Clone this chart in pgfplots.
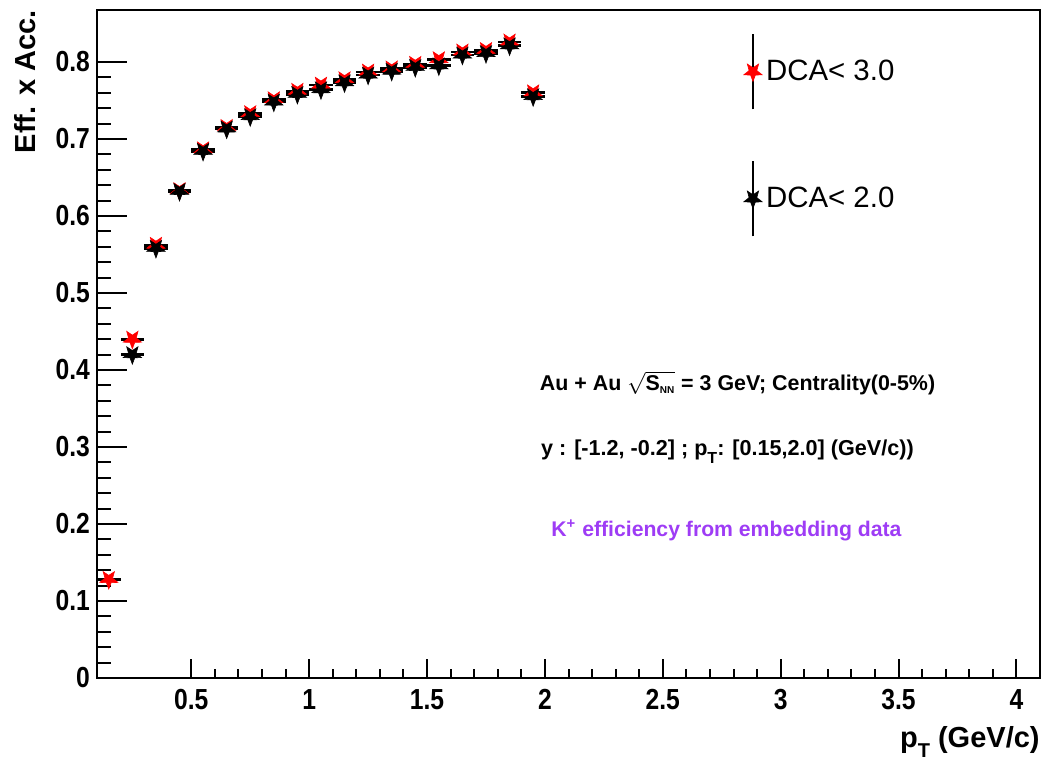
\documentclass[border=0pt]{standalone}
\usepackage{fontspec}
\setmainfont{Liberation Sans}
\newfontfamily\condfont[FakeStretch=0.85]{Liberation Sans}
\usepackage{pgfplots}
\usepackage{pgfplotstable}
\pgfplotsset{compat=1.18}
\usetikzlibrary{calc}
\definecolor{kpurple}{RGB}{158,60,245}

% filled five-point star, two points up
\pgfdeclareplotmark{dstar}{%
  \pgfpathmoveto{\pgfpointpolar{270}{\pgfplotmarksize}}%
  \pgfpathlineto{\pgfpointpolar{306}{0.42\pgfplotmarksize}}%
  \pgfpathlineto{\pgfpointpolar{342}{\pgfplotmarksize}}%
  \pgfpathlineto{\pgfpointpolar{18}{0.42\pgfplotmarksize}}%
  \pgfpathlineto{\pgfpointpolar{54}{\pgfplotmarksize}}%
  \pgfpathlineto{\pgfpointpolar{90}{0.42\pgfplotmarksize}}%
  \pgfpathlineto{\pgfpointpolar{126}{\pgfplotmarksize}}%
  \pgfpathlineto{\pgfpointpolar{162}{0.42\pgfplotmarksize}}%
  \pgfpathlineto{\pgfpointpolar{198}{\pgfplotmarksize}}%
  \pgfpathlineto{\pgfpointpolar{234}{0.42\pgfplotmarksize}}%
  \pgfpathclose
  \pgfusepathqfillstroke}

\pgfplotstableread{
pt eff
0.15 0.128
0.25 0.440
0.35 0.562
0.45 0.633
0.55 0.686
0.65 0.715
0.75 0.733
0.85 0.751
0.95 0.762
1.05 0.770
1.15 0.777
1.25 0.787
1.35 0.791
1.45 0.797
1.55 0.803
1.65 0.813
1.75 0.815
1.85 0.826
1.95 0.760
}\dcathree

\pgfplotstableread{
pt eff
0.25 0.420
0.35 0.558
0.45 0.632
0.55 0.684
0.65 0.713
0.75 0.729
0.85 0.748
0.95 0.758
1.05 0.764
1.15 0.773
1.25 0.783
1.35 0.788
1.45 0.793
1.55 0.795
1.65 0.809
1.75 0.811
1.85 0.821
1.95 0.755
}\dcatwo

\pgfplotsset{binerr/.style={error bars/.cd, x dir=both, x fixed=0.05, error mark=none,
    error bar style={black, line width=1.4pt}}}

\begin{document}
\begin{tikzpicture}
\begin{axis}[
  scale only axis, width=471.5pt, height=334pt,
  xmin=0.1, xmax=4.1, ymin=0, ymax=0.8675,
  xtick={0.5,1,1.5,2,2.5,3,3.5,4},
  ytick={0,0.1,0.2,0.3,0.4,0.5,0.6,0.7,0.8},
  yticklabels={0,0.1,0.2,0.3,0.4,0.5,0.6,0.7,0.8},
  minor tick num=4,
  xtick pos=bottom, ytick pos=left, tick align=inside,
  axis line style={line width=1pt},
  every tick/.style={black, line width=1pt},
  major x tick style={/pgfplots/major tick length=9.5pt},
  minor x tick style={/pgfplots/minor tick length=4.5pt},
  major y tick style={/pgfplots/major tick length=15pt},
  minor y tick style={/pgfplots/minor tick length=7pt},
  /pgf/number format/assume math mode=true,
  tick label style={font=\condfont\bfseries\fontsize{14.5}{14.5}\selectfont},
  xticklabel style={yshift=-2pt},
  xlabel={p\raisebox{-5pt}{\fontsize{10}{10}\selectfont T} (GeV/c)},
  xlabel style={at={(rel axis cs:1,0)}, anchor=base east, yshift=-35pt, inner sep=0pt,
    font=\bfseries\fontsize{14.5}{16}\selectfont},
  ylabel={Eff. x Acc.},
  ylabel style={at={(rel axis cs:-0.0763,1)}, anchor=east, inner sep=0pt,
    font=\bfseries\fontsize{14.5}{16}\selectfont},
  legend style={at={(axis cs:2.842,0.8377)}, anchor=north west, draw=none, fill=none,
    inner sep=0pt, row sep=25pt, font=\fontsize{14.7}{16}\selectfont},
  legend cell align=left,
  legend image code/.code={%
    \draw[black, line width=1pt] (6pt,-18.75pt) -- (6pt,18.75pt);
    \draw[only marks, mark repeat=2, mark phase=2] plot coordinates {(0pt,0pt) (6pt,0pt) (17.5pt,0pt)};},
]
\addplot[only marks, mark=dstar, mark size=4.8pt, mark options={fill=red, draw=red, line width=0.3pt}, binerr]
  table[x=pt, y=eff] {\dcathree};
\addlegendentry{DCA< 3.0}
\addplot[only marks, mark=dstar, mark size=4.8pt, mark options={fill=black, draw=black, line width=0.3pt}, binerr]
  table[x=pt, y=eff] {\dcatwo};
\addlegendentry{DCA< 2.0}

\node[font=\bfseries\fontsize{10.7}{12}\selectfont] at (axis cs:2.817,0.383)
  {Au + Au $\sqrt{\mbox{S}_{\mbox{\tiny NN}}}$ = 3 GeV; Centrality(0-5\%)};
\node[font=\bfseries\fontsize{10.8}{12}\selectfont] at (axis cs:2.774,0.2935)
  {y : [-1.2, -0.2] ; p\raisebox{-4pt}{\fontsize{8}{8}\selectfont T}: [0.15,2.0] (GeV/c))};
\node[font=\bfseries\fontsize{10.6}{12}\selectfont, text=kpurple] at (axis cs:2.77,0.192)
  {K\textsuperscript{+} efficiency from embedding data};
\end{axis}
\pgfresetboundingbox
\path ($(current axis.south west)+(-48.5pt,-42pt)$) rectangle ($(current axis.north east)+(2.5pt,5pt)$);
\end{tikzpicture}
\end{document}
